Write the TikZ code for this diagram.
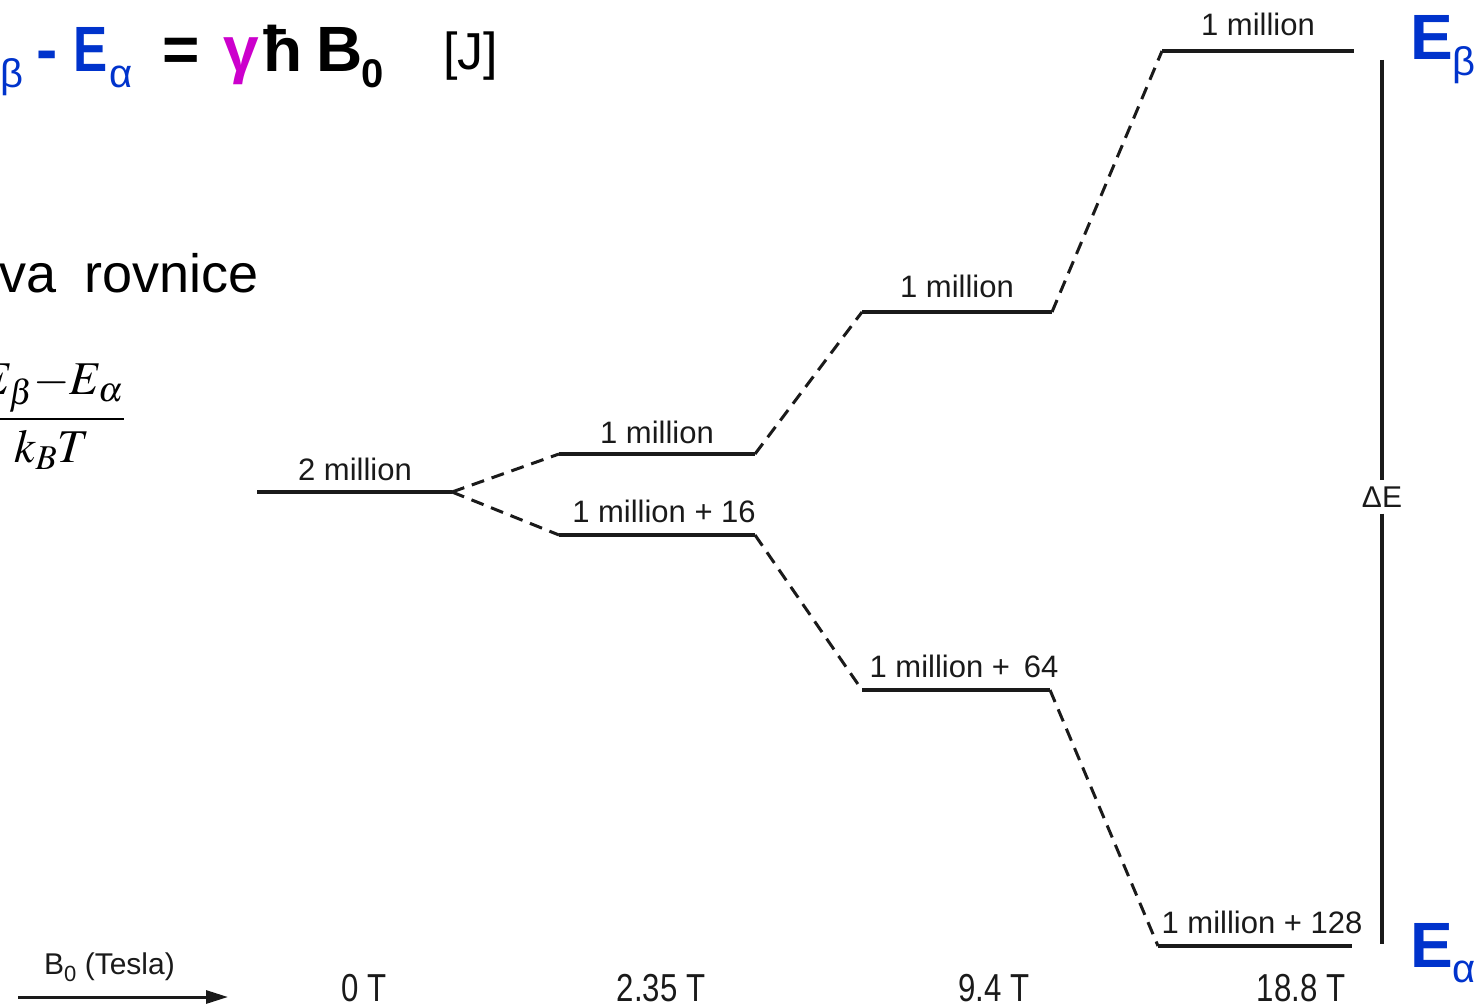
\documentclass[tikz,border=0pt]{standalone}
\usepackage{mathptmx}
\usepackage[no-math]{fontspec}
\setmainfont{Liberation Sans}
\usetikzlibrary{arrows.meta}
\definecolor{eblue}{HTML}{0033CC}
\definecolor{emag}{HTML}{CC00CC}
\definecolor{ink}{HTML}{1A1A1A}
\newcommand{\fsz}[1]{\fontsize{#1}{#1}\selectfont}
\begin{document}
\begin{tikzpicture}[x=1pt,y=-1pt,
  level/.style={draw=ink, line width=3.4pt},
  trans/.style={draw=ink, line width=3pt, dash pattern=on 13pt off 8pt},
  lvllabel/.style={anchor=base, inner sep=0pt, text=ink, font=\fsz{31}},
  axlabel/.style={anchor=base, inner sep=0pt, text=ink, font=\fsz{39}},
  big/.style={anchor=base west, inner sep=0pt, font=\fsz{64}\bfseries},
  subs/.style={anchor=base west, inner sep=0pt, font=\fsz{40}},
]
\useasboundingbox (0,0) rectangle (1482,1006);
\clip (0,0) rectangle (1482,1006);
\fill[white] (0,0) rectangle (1482,1006);

% ---- top equation ----
\node[big, text=eblue, anchor=base east] (E1) at (-2,72) {E};
\node[subs, text=eblue] (E1s) at (0,88) {β};
\node[big, text=eblue, anchor=base] (minus) at (47,72) {-};
\node[big, text=eblue] (E2) at (73,72) {\scalebox{0.8}[1]{E}};
\node[subs, text=eblue] (E2s) at (109,88) {α};
\node[big, text=black, anchor=base] (eq) at (181,72) {=};
\node[big, text=emag, anchor=base] (gam) at (241,72) {γ};
\node[big, text=black, anchor=base] (hbar) at (283,72) {ħ};
\node[big, text=black] (B) at (316,72) {B};
\node[subs, text=black, font=\fsz{40}\bfseries] (Bs) at (361,88) {0};
\node[anchor=base west, inner sep=0pt, font=\fsz{52}] (J) at (443,70) {[J]};

% ---- left texts ----
\node[anchor=base east, inner sep=0pt, font=\fsz{54}] (rov) at (259,292) {ova\hspace{28pt}rovnice};
\node[inner sep=0pt, font=\fsz{47}] (frac) at (52,417) {$\displaystyle\frac{E_\beta{-}E_\alpha}{k_B T}$};

% ---- levels ----
\coordinate (aL) at (257,492); \coordinate (aR) at (452,492);
\coordinate (bL) at (559,454); \coordinate (bR) at (755,454);
\coordinate (cL) at (559,535); \coordinate (cR) at (755,535);
\coordinate (dL) at (862,312); \coordinate (dR) at (1052,312);
\coordinate (eL) at (862,690); \coordinate (eR) at (1050,690);
\coordinate (fL) at (1162,51); \coordinate (fR) at (1354,51);
\coordinate (gL) at (1158,946); \coordinate (gR) at (1352,946);

\draw[level] (aL) -- (aR);
\draw[level] (bL) -- (bR);
\draw[level] (cL) -- (cR);
\draw[level] (dL) -- (dR);
\draw[level] (eL) -- (eR);
\draw[level] (fL) -- (fR);
\draw[level] (gL) -- (gR);

\draw[trans] (aR) -- (bL);
\draw[trans] (aR) -- (cL);
\draw[trans] (bR) -- (dL);
\draw[trans] (cR) -- (eL);
\draw[trans] (dR) -- (fL);
\draw[trans] (eR) -- (gL);

\node[lvllabel] (la) at (355,480) {2 million};
\node[lvllabel] (lb) at (657,443) {1 million};
\node[lvllabel] (lc) at (664,522) {1 million + 16};
\node[lvllabel] (ld) at (957,297) {1 million};
\node[lvllabel] (le) at (964,677) {1 million + \,64};
\node[lvllabel] (lf) at (1258,36) {1 million};
\node[lvllabel] (lg) at (1262,933) {1 million + 128};

% ---- axis ----
\node[axlabel] (t0) at (364,1001) {\scalebox{0.8}[1]{0 T}};
\node[axlabel] (t1) at (661,1001) {\scalebox{0.8}[1]{2.35 T}};
\node[axlabel] (t2) at (994,1001) {\scalebox{0.8}[1]{9.4 T}};
\node[axlabel] (t3) at (1301,1001) {\scalebox{0.8}[1]{18.8 T}};

\node[anchor=base west, inner sep=0pt, font=\fsz{30}, text=ink] (b0) at (44,974) {B\raisebox{-7pt}{\fsz{22}0} (Tesla)};
\coordinate (arrS) at (18,997);
\coordinate (arrE) at (228,997);
\draw[line width=3pt, ink, -{Triangle[length=22pt,width=13pt]}] (arrS) -- (arrE);

% ---- Delta E ----
\node[inner sep=6pt, font=\fsz{30}, text=ink] (dE) at (1382,497) {ΔE};
\coordinate (vt) at (1382,60);
\coordinate (vb) at (1382,944);
\draw[level] (vt) -- (dE.north);
\draw[level] (dE.south) -- (vb);

\node[big, text=eblue] (Eb) at (1410,60) {E};
\node[subs, text=eblue] (Ebs) at (1452,76) {β};
\node[big, text=eblue] (Ea) at (1410,967) {E};
\node[subs, text=eblue] (Eas) at (1452,982) {α};
\end{tikzpicture}
\end{document}
